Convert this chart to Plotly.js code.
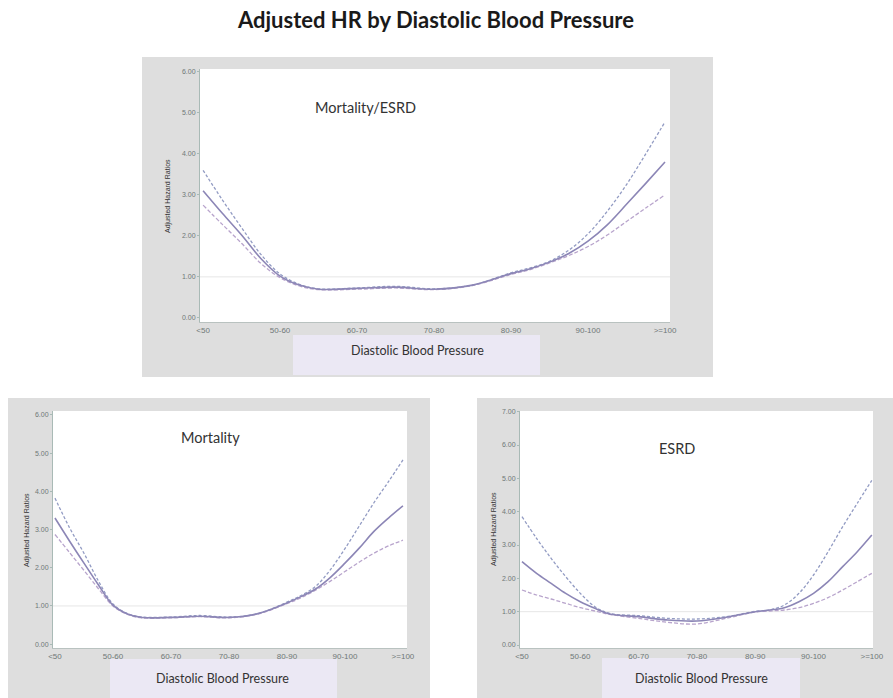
<!DOCTYPE html>
<html><head><meta charset="utf-8">
<script src="https://cdn.plot.ly/plotly-3.0.1.min.js"></script>
<style>html,body{margin:0;padding:0;background:#fff;}#chart{width:893px;height:698px;}</style>
</head><body><div id="chart"></div>
<script>
// ---- data ----
const categories = ['<50', '50-60', '60-70', '70-80', '80-90', '90-100', '>=100'];
const catIndex = [0, 1, 2, 3, 4, 5, 6];
// sample positions along the category axis (category index units)
const xPos = [0, 0.25, 0.5, 0.75, 1, 1.25, 1.5, 2, 2.5, 3, 3.5, 4, 4.25, 4.5, 4.75, 5, 5.25, 5.5, 5.75, 6];

// Mortality/ESRD
const combHR    = [3.10, 2.55, 2.02, 1.45, 1.02, 0.80, 0.70, 0.72, 0.75, 0.70, 0.80, 1.08, 1.20, 1.36, 1.57, 1.87, 2.27, 2.77, 3.28, 3.80];
const combUpper = [3.60, 2.88, 2.20, 1.55, 1.07, 0.82, 0.71, 0.73, 0.77, 0.71, 0.80, 1.10, 1.22, 1.38, 1.65, 2.05, 2.60, 3.25, 4.00, 4.78];
const combLower = [2.75, 2.28, 1.82, 1.33, 0.98, 0.78, 0.69, 0.70, 0.73, 0.69, 0.79, 1.06, 1.18, 1.34, 1.52, 1.74, 2.02, 2.35, 2.68, 3.00];

// Mortality
const mortHR    = [3.30, 2.70, 2.12, 1.55, 1.02, 0.79, 0.70, 0.70, 0.73, 0.70, 0.80, 1.08, 1.25, 1.45, 1.75, 2.12, 2.52, 2.95, 3.30, 3.62];
const mortUpper = [3.82, 3.05, 2.38, 1.65, 1.05, 0.80, 0.71, 0.71, 0.75, 0.71, 0.80, 1.10, 1.28, 1.52, 1.95, 2.50, 3.10, 3.70, 4.25, 4.82];
const mortLower = [2.87, 2.40, 1.93, 1.45, 1.00, 0.78, 0.69, 0.69, 0.72, 0.69, 0.79, 1.06, 1.22, 1.42, 1.65, 1.90, 2.15, 2.38, 2.57, 2.72];

// ESRD
const esrdHR    = [2.50, 2.15, 1.85, 1.55, 1.30, 1.10, 0.93, 0.85, 0.75, 0.72, 0.83, 1.00, 1.05, 1.12, 1.30, 1.55, 1.90, 2.35, 2.80, 3.30];
const esrdUpper = [3.85, 3.20, 2.60, 2.05, 1.55, 1.15, 0.95, 0.88, 0.80, 0.78, 0.85, 1.01, 1.05, 1.20, 1.55, 2.10, 2.80, 3.55, 4.25, 4.94];
const esrdLower = [1.65, 1.50, 1.38, 1.25, 1.12, 1.02, 0.92, 0.80, 0.68, 0.63, 0.80, 0.99, 1.02, 1.05, 1.12, 1.25, 1.42, 1.65, 1.90, 2.15];

const mainTitle = 'Adjusted HR by Diastolic Blood Pressure';
const panelTitles = ['Mortality/ESRD', 'Mortality', 'ESRD'];
const xTitle = 'Diastolic Blood Pressure';
const yTitle = 'Adjusted Hazard Ratios';

// ---- helpers ----
const W = 893, H = 698;
const px = v => v / W;
const py = v => 1 - v / H;

const upStyle  = {color: '#929bc3', width: 1.3, dash: '3px,2px', shape: 'spline', smoothing: 1};
const midStyle = {color: '#8c86b6', width: 1.6, dash: 'solid', shape: 'spline', smoothing: 1};
const lowStyle = {color: '#b8a4cc', width: 1.3, dash: '4px,2px', shape: 'spline', smoothing: 1};

function trio(xa, ya, hr, up, lo) {
  return [
    {x: xPos, y: up, xaxis: xa, yaxis: ya, mode: 'lines', line: upStyle, name: 'Upper 95% CI', showlegend: false},
    {x: xPos, y: lo, xaxis: xa, yaxis: ya, mode: 'lines', line: lowStyle, name: 'Lower 95% CI', showlegend: false},
    {x: xPos, y: hr, xaxis: xa, yaxis: ya, mode: 'lines', line: midStyle, name: 'Adjusted HR', showlegend: false}
  ];
}

const data = [].concat(
  trio('x', 'y', combHR, combUpper, combLower),
  trio('x2', 'y2', mortHR, mortUpper, mortLower),
  trio('x3', 'y3', esrdHR, esrdUpper, esrdLower)
);

const xTickFont = {family: 'Arial, Liberation Sans, sans-serif', size: 8, color: '#6f7877'};
const yTickFont = {family: 'Arial, Liberation Sans, sans-serif', size: 7, color: '#6f7877'};
function xAxis(domain, range, anchor) {
  return {domain: domain, range: range, anchor: anchor, tickmode: 'array', tickvals: catIndex, ticktext: categories,
    showgrid: false, zeroline: false, showline: true, linecolor: '#b9c2c0', linewidth: 1,
    ticks: '', tickfont: xTickFont, fixedrange: true};
}
function yAxis(domain, range, anchor, maxTick) {
  const vals = []; for (let i = 0; i <= maxTick; i++) vals.push(i);
  return {domain: domain, range: range, anchor: anchor, tickmode: 'array', tickvals: vals,
    tickformat: '.2f', showgrid: false, zeroline: false, showline: true, linecolor: '#a9bab6', linewidth: 1,
    ticks: 'outside', ticklen: 2, tickcolor: '#a9bab6', tickfont: yTickFont, fixedrange: true};
}

const plots = [
  {x0: 200, x1: 670, y0: 69, y1: 322},
  {x0: 53, x1: 407, y0: 411, y1: 648},
  {x0: 520, x1: 873, y0: 411, y1: 648}
];
const grays = [
  {x0: 142, x1: 713, y0: 57, y1: 377},
  {x0: 8, x1: 430, y0: 398, y1: 698},
  {x0: 477, x1: 893, y0: 398, y1: 698}
];
const lavs = [
  {x0: 293, x1: 540, y0: 335, y1: 375},
  {x0: 110, x1: 337, y0: 659, y1: 698},
  {x0: 602, x1: 800, y0: 658, y1: 698}
];

const shapes = [];
grays.forEach(g => shapes.push({type: 'rect', xref: 'paper', yref: 'paper', x0: px(g.x0), x1: px(g.x1), y0: py(g.y1), y1: py(g.y0),
  fillcolor: '#dedede', line: {width: 0}, layer: 'below'}));
lavs.forEach(g => shapes.push({type: 'rect', xref: 'paper', yref: 'paper', x0: px(g.x0), x1: px(g.x1), y0: py(g.y1), y1: py(g.y0),
  fillcolor: '#ebe8f4', line: {width: 0}, layer: 'below'}));
plots.forEach(g => shapes.push({type: 'rect', xref: 'paper', yref: 'paper', x0: px(g.x0), x1: px(g.x1), y0: py(g.y1), y1: py(g.y0),
  fillcolor: '#ffffff', line: {width: 0}, layer: 'below'}));
[['x', 'y'], ['x2', 'y2'], ['x3', 'y3']].forEach(([xa, ya]) => shapes.push({type: 'line', xref: xa + ' domain', yref: ya,
  x0: 0, x1: 1, y0: 1, y1: 1, line: {color: '#e6e6e6', width: 1}, layer: 'below'}));

const ann = [];
ann.push({text: '<b>' + mainTitle + '</b>', xref: 'paper', yref: 'paper', x: px(435), y: py(19), showarrow: false,
  xanchor: 'center', yanchor: 'middle', font: {family: 'Lato, sans-serif', size: 22, color: '#1a1a1a'}});
const panelPos = [[365, 107], [210, 437], [677, 448]];
panelTitles.forEach((t, i) => ann.push({text: t, xref: 'paper', yref: 'paper', x: px(panelPos[i][0]), y: py(panelPos[i][1]),
  showarrow: false, xanchor: 'center', yanchor: 'middle', font: {family: 'Lato, sans-serif', size: 14.5, color: '#333'}}));
const xtPos = [[417, 350], [222, 678], [701, 678]];
xtPos.forEach(p => ann.push({text: xTitle, xref: 'paper', yref: 'paper', x: px(p[0]), y: py(p[1]), showarrow: false,
  xanchor: 'center', yanchor: 'middle', font: {family: 'Lato, sans-serif', size: 12.5, color: '#333'}}));
const ytPos = [[168, 196], [27, 530], [494, 529]];
ytPos.forEach(p => ann.push({text: yTitle, xref: 'paper', yref: 'paper', x: px(p[0]), y: py(p[1]), showarrow: false,
  textangle: -90, xanchor: 'center', yanchor: 'middle', font: {family: 'Arial, Liberation Sans, sans-serif', size: 7, color: '#333'}}));

const layout = {
  width: W, height: H,
  margin: {l: 0, r: 0, t: 0, b: 0},
  paper_bgcolor: '#ffffff', plot_bgcolor: '#ffffff',
  showlegend: false,
  xaxis: xAxis([px(200), px(670)], [-0.04, 6.065], 'y'),
  yaxis: yAxis([py(322), py(69)], [-0.1, 6.07], 'x', 6),
  xaxis2: xAxis([px(53), px(407)], [-0.034, 6.07], 'y2'),
  yaxis2: yAxis([py(648), py(411)], [-0.1, 6.1], 'x2', 6),
  xaxis3: xAxis([px(520), px(873)], [-0.034, 6.02], 'y3'),
  yaxis3: yAxis([py(648), py(411)], [-0.09, 7.02], 'x3', 7),
  shapes: shapes,
  annotations: ann
};

Plotly.newPlot('chart', data, layout, {displayModeBar: false, staticPlot: true});
</script>
</body></html>
